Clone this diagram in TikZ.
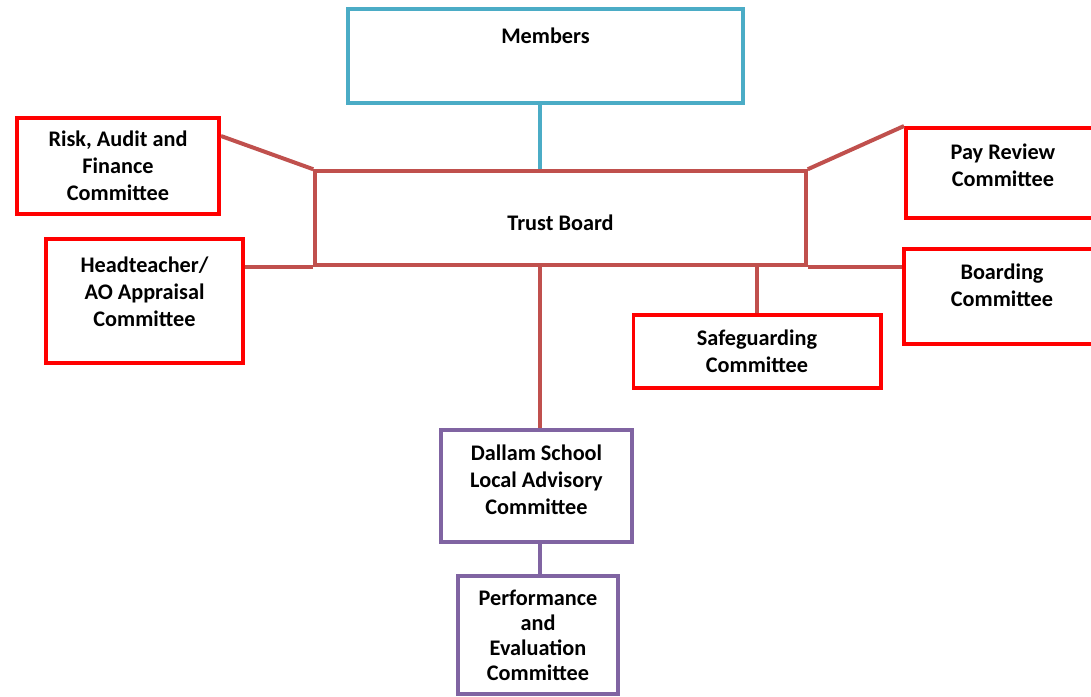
\documentclass[tikz,border=0pt]{standalone}
\usepackage{fontspec}
\setmainfont{Carlito}
\usetikzlibrary{calc,positioning}
\definecolor{memberblue}{HTML}{4BACC6}
\definecolor{boardred}{HTML}{C0504D}
\definecolor{committeered}{HTML}{FF0000}
\definecolor{lacpurple}{HTML}{8064A2}

\begin{document}
\begin{tikzpicture}[x=0.03cm,y=-0.03cm,
    box/.style={draw,rectangle,line width=3.4pt,fill=white,align=center,
      font=\bfseries\fontsize{19}{23}\selectfont,inner sep=2pt},
    membersbox/.style={box,draw=memberblue},
    boardbox/.style={box,draw=boardred,line width=3pt},
    redbox/.style={box,draw=committeered},
    lacbox/.style={box,draw=lacpurple},
    link/.style={draw=boardred,line width=3.4pt}]
  \clip (0,0) rectangle (1091,696);
  \fill[white] (0,0) rectangle (1091,696);
  \coordinate (spine) at (540,0);
  \node[membersbox,minimum width=11.85cm,minimum height=2.82cm,text depth=1.2cm] (members) at (545.5,56) {Members};
  \node[boardbox,minimum width=14.73cm,minimum height=2.82cm,text height=0.73cm] (board) at (560.5,218) {Trust Board};
  \node[redbox,minimum width=6.06cm,minimum height=2.88cm] (raf) at (118,166) {Risk, Audit and\\Finance\\Committee};
  \node[redbox,minimum width=5.91cm,minimum height=3.72cm,text depth=0.54cm] (head) at (144.5,301) {Headteacher/\\AO Appraisal\\Committee};
  \node[redbox,minimum width=5.82cm,minimum height=2.70cm,text depth=0.48cm] (pay) at (1003,173) {Pay Review\\Committee};
  \node[redbox,minimum width=5.88cm,minimum height=2.85cm,text depth=0.66cm] (boarding) at (1002,296.5) {Boarding\\Committee};
  \node[redbox,minimum width=7.41cm,minimum height=2.19cm] (safe) at (757,351.5) {Safeguarding\\Committee};
  \node[lacbox,minimum width=5.73cm,minimum height=3.36cm,text depth=0.36cm] (dallam) at (536.5,486) {Dallam School\\Local Advisory\\Committee};
  \node[lacbox,minimum width=4.80cm,minimum height=3.54cm,font=\bfseries\fontsize{19}{21.3}\selectfont] (perf) at (538,635) {Performance\\and\\Evaluation\\Committee};
  \draw[draw=memberblue,line width=3.4pt] (members.south -| spine) -- (board.north -| spine);
  \draw[link] ($(raf.north east)+(0,20)$) -- (board.north west);
  \draw[link] (head.east |- board.south west) -- (board.south west);
  \draw[link] (pay.north west) -- (board.north east);
  \draw[link] (boarding.west |- board.south east) -- (board.south east);
  \draw[link] (safe.north) -- (safe.north |- board.south);
  \draw[link] (board.south -| spine) -- (dallam.north -| spine);
  \draw[draw=lacpurple,line width=3.4pt] (dallam.south -| spine) -- (perf.north -| spine);
\end{tikzpicture}
\end{document}
